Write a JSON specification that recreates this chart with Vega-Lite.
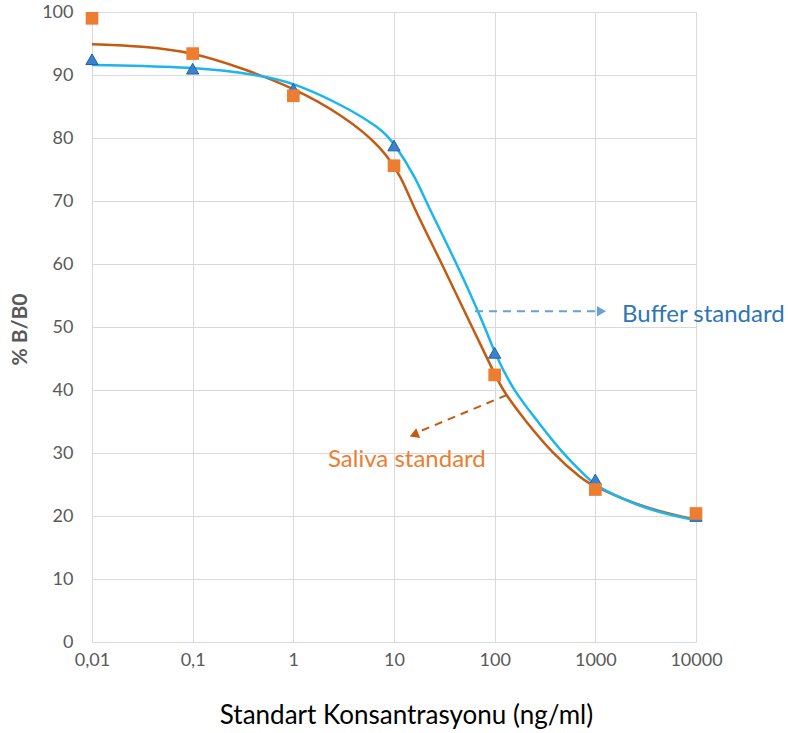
{
  "$schema": "https://vega.github.io/schema/vega-lite/v6.json",
  "width": 604,
  "height": 630,
  "autosize": {"type": "none"},
  "padding": {"left": 92, "top": 12, "right": 92, "bottom": 91},
  "background": "white",
  "config": {
    "view": {"stroke": null},
    "font": "Lato",
    "axis": {
      "labelFont": "Lato",
      "labelFontSize": 18,
      "labelColor": "#595959",
      "gridColor": "#D9D9D9",
      "gridWidth": 1,
      "ticks": false,
      "domain": false,
      "labelFlush": false,
      "labelOverlap": false,
      "titleFont": "Lato"
    }
  },
  "datasets": {
    "saliva_curve": [
      {"c": 0.01, "v": 94.9},
      {"c": 0.0314, "v": 94.6},
      {"c": 0.1, "v": 93.6},
      {"c": 0.295, "v": 91.2},
      {"c": 1, "v": 88.0},
      {"c": 3.11, "v": 83.6},
      {"c": 7.6, "v": 78.6},
      {"c": 12.3, "v": 73.3},
      {"c": 14.4, "v": 70.2},
      {"c": 30.0, "v": 60.0},
      {"c": 59.5, "v": 50.0},
      {"c": 85.9, "v": 44.8},
      {"c": 118, "v": 40.0},
      {"c": 200, "v": 35.2},
      {"c": 371, "v": 30.0},
      {"c": 754, "v": 25.7},
      {"c": 1000, "v": 24.6},
      {"c": 3112, "v": 21.2},
      {"c": 10000, "v": 19.4}
    ],
    "buffer_curve": [
      {"c": 0.01, "v": 91.6},
      {"c": 0.1, "v": 91.3},
      {"c": 0.467, "v": 90.0},
      {"c": 1, "v": 88.8},
      {"c": 3.11, "v": 85.2},
      {"c": 7.26, "v": 81.6},
      {"c": 10, "v": 79.3},
      {"c": 16.9, "v": 73.3},
      {"c": 20.3, "v": 70.2},
      {"c": 42.3, "v": 60.0},
      {"c": 80.2, "v": 50.0},
      {"c": 101, "v": 45.7},
      {"c": 152, "v": 40.0},
      {"c": 263, "v": 35.2},
      {"c": 467, "v": 30.0},
      {"c": 885, "v": 25.7},
      {"c": 1000, "v": 24.8},
      {"c": 3112, "v": 21.0},
      {"c": 10000, "v": 19.3}
    ],
    "saliva_pts": [
      {"c": 0.01, "v": 99.0},
      {"c": 0.1, "v": 93.4},
      {"c": 1, "v": 86.7},
      {"c": 10, "v": 75.6},
      {"c": 100, "v": 42.4},
      {"c": 1000, "v": 24.2},
      {"c": 10000, "v": 20.4}
    ],
    "buffer_pts": [
      {"c": 0.01, "v": 92.5},
      {"c": 0.1, "v": 91.0},
      {"c": 1, "v": 87.8},
      {"c": 10, "v": 78.8},
      {"c": 100, "v": 45.9},
      {"c": 1000, "v": 25.8},
      {"c": 10000, "v": 20.0}
    ],
    "buffer_arrow": [{"x": 63.7, "y": 52.5, "x2": 1040, "y2": 52.5}],
    "buffer_head": [{"x": 1150, "y": 52.5}],
    "saliva_arrow": [{"x": 132, "y": 39.2, "x2": 17.8, "y2": 33.4}],
    "saliva_head": [{"x": 15.8, "y": 32.9}],
    "buffer_label": [{"x": 1841, "y": 51.9, "t": "Buffer standard"}],
    "saliva_label": [{"x": 2.21, "y": 28.9, "t": "Saliva standard"}]
  },
  "layer": [
    {
      "data": {"name": "saliva_curve"},
      "mark": {"type": "line", "color": "#C55A11", "strokeWidth": 2.5, "interpolate": "basis"},
      "encoding": {
        "x": {
          "field": "c", "type": "quantitative",
          "scale": {"type": "log", "domain": [0.01, 10000], "nice": false},
          "axis": {
            "values": [0.01, 0.1, 1, 10, 100, 1000, 10000],
            "format": "~g",
            "labelExpr": "replace(datum.label, '.', ',')",
            "labelPadding": 9,
            "domain": true,
            "domainColor": "#D9D9D9",
            "title": "Standart Konsantrasyonu (ng/ml)",
            "titleFontSize": 26,
            "titleFontWeight": "normal",
            "titleColor": "#000000",
            "titleX": 314,
            "titleY": 73,
            "titleBaseline": "middle",
            "titleAlign": "center"
          }
        },
        "y": {
          "field": "v", "type": "quantitative",
          "scale": {"domain": [0, 100], "nice": false},
          "axis": {
            "values": [0, 10, 20, 30, 40, 50, 60, 70, 80, 90, 100],
            "format": "d",
            "labelPadding": 19,
            "title": "% B/B0",
            "titleFontSize": 21,
            "titleFontWeight": "bold",
            "titleColor": "#595959",
            "titleX": -72,
            "titleY": 317,
            "titleAngle": -90,
            "titleAlign": "center",
            "titleBaseline": "middle"
          }
        }
      }
    },
    {
      "data": {"name": "buffer_curve"},
      "mark": {"type": "line", "color": "#1CB5EC", "strokeWidth": 2.5, "interpolate": "basis"},
      "encoding": {
        "x": {"field": "c", "type": "quantitative"},
        "y": {"field": "v", "type": "quantitative"}
      }
    },
    {
      "data": {"name": "buffer_pts"},
      "mark": {"type": "point", "shape": "triangle-up", "filled": true, "size": 150, "fill": "#3C82CA", "stroke": "#2060A8", "strokeWidth": 1, "opacity": 1},
      "encoding": {
        "x": {"field": "c", "type": "quantitative"},
        "y": {"field": "v", "type": "quantitative"}
      }
    },
    {
      "data": {"name": "saliva_pts"},
      "mark": {"type": "point", "shape": "square", "filled": true, "size": 160, "fill": "#ED7D31", "opacity": 1},
      "encoding": {
        "x": {"field": "c", "type": "quantitative"},
        "y": {"field": "v", "type": "quantitative"}
      }
    },
    {
      "data": {"name": "buffer_arrow"},
      "mark": {"type": "rule", "color": "#6A9FD8", "strokeWidth": 2, "strokeDash": [8, 6]},
      "encoding": {
        "x": {"field": "x", "type": "quantitative"},
        "y": {"field": "y", "type": "quantitative"},
        "x2": {"field": "x2"},
        "y2": {"field": "y2"}
      }
    },
    {
      "data": {"name": "buffer_head"},
      "mark": {"type": "point", "shape": "triangle-right", "filled": true, "size": 110, "color": "#6A9FD8", "opacity": 1},
      "encoding": {
        "x": {"field": "x", "type": "quantitative"},
        "y": {"field": "y", "type": "quantitative"}
      }
    },
    {
      "data": {"name": "saliva_arrow"},
      "mark": {"type": "rule", "color": "#C55A11", "strokeWidth": 2, "strokeDash": [8, 6]},
      "encoding": {
        "x": {"field": "x", "type": "quantitative"},
        "y": {"field": "y", "type": "quantitative"},
        "x2": {"field": "x2"},
        "y2": {"field": "y2"}
      }
    },
    {
      "data": {"name": "saliva_head"},
      "mark": {"type": "point", "shape": "triangle-right", "filled": true, "size": 110, "color": "#C55A11", "angle": 158, "opacity": 1},
      "encoding": {
        "x": {"field": "x", "type": "quantitative"},
        "y": {"field": "y", "type": "quantitative"}
      }
    },
    {
      "data": {"name": "buffer_label"},
      "mark": {"type": "text", "align": "left", "baseline": "middle", "font": "Lato", "fontSize": 24, "color": "#2E75B6"},
      "encoding": {
        "x": {"field": "x", "type": "quantitative"},
        "y": {"field": "y", "type": "quantitative"},
        "text": {"field": "t"}
      }
    },
    {
      "data": {"name": "saliva_label"},
      "mark": {"type": "text", "align": "left", "baseline": "middle", "font": "Lato", "fontSize": 24, "color": "#ED7D31"},
      "encoding": {
        "x": {"field": "x", "type": "quantitative"},
        "y": {"field": "y", "type": "quantitative"},
        "text": {"field": "t"}
      }
    }
  ]
}
